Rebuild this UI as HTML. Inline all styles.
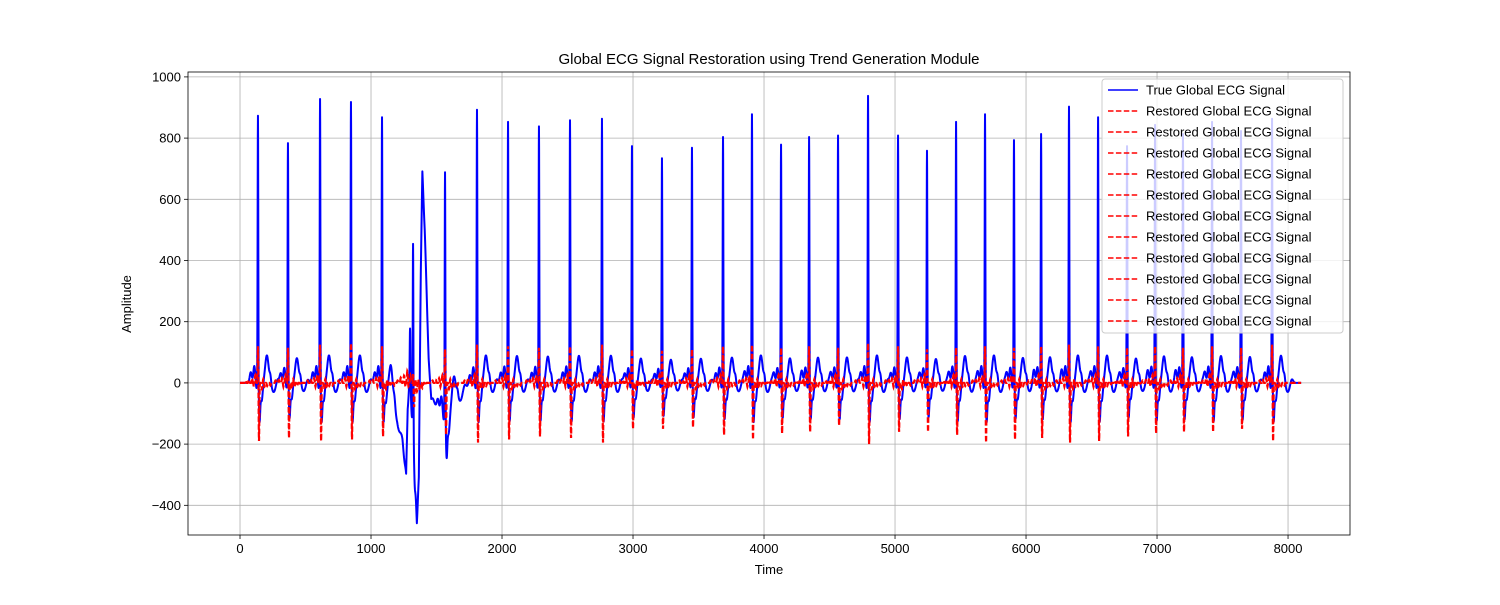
<!DOCTYPE html>
<html><head><meta charset="utf-8"><style>
body{margin:0;background:#fff;font-family:"Liberation Sans",sans-serif}
svg text{font-family:"Liberation Sans",sans-serif;fill:#000}
</style></head><body>
<svg id="c" width="1500" height="600" xmlns="http://www.w3.org/2000/svg">
<rect width="1500" height="600" fill="#fff"/>
<g id="grid"></g><g id="series"></g><g id="axes"></g>
<text x="769" y="64" font-size="15" text-anchor="middle">Global ECG Signal Restoration using Trend Generation Module</text>
<text x="769" y="574" font-size="13" text-anchor="middle">Time</text>
<text x="131" y="304" font-size="13" text-anchor="middle" transform="rotate(-90 131 304)">Amplitude</text>
<g id="legend"></g>
</svg>
<script>
const xTicks=[0,1000,2000,3000,4000,5000,6000,7000,8000];
const yTicks=[-400,-200,0,200,400,600,800,1000];
const beatTimes=[137,366,611,847,1084,1298,1321,1565,1809,2046,2282,2519,2763,2992,3221,3450,3687,3908,4130,4344,4565,4794,5023,5244,5466,5687,5908,6115,6328,6550,6771,6985,7198,7420,7641,7878];
const beatAmps=[880,790,935,925,875,160,610,810,900,860,845,865,870,780,740,775,810,885,785,810,815,945,815,765,860,885,800,820,910,875,780,850,820,860,830,870];
const wanderT=[0,1100,1150,1200,1240,1268,1280,1300,1330,1350,1365,1380,1392,1410,1425,1440,1460,1500,1550,1580,1620,1700,1800,8100];
const wanderV=[0,0,-30,-100,-200,-330,-100,0,-200,-425,-330,300,625,480,300,100,-50,-80,-100,-130,-70,-20,0,0];
const redUp=[120,115,125,130,120,0,30,110,125,120,115,120,125,110,105,110,120,125,115,120,115,130,120,110,115,120,115,120,125,120,115,120,115,120,115,125];
const redDown=[-190,-180,-190,-185,-175,0,-60,-170,-195,-185,-175,-180,-195,-150,-150,-145,-170,-185,-165,-160,-140,-200,-160,-160,-170,-195,-185,-180,-195,-190,-175,-165,-160,-160,-150,-190];
const X0=188,X1=1350,Y0=72,Y1=535;
const xmin=-397,xmax=8473,ymin=-497,ymax=1016;
const sx=v=>X0+(v-xmin)/(xmax-xmin)*(X1-X0);
const sy=v=>Y1-(v-ymin)/(ymax-ymin)*(Y1-Y0);
const NS='http://www.w3.org/2000/svg';
function mk(tag,at,parent){const e=document.createElementNS(NS,tag);for(const k in at)e.setAttribute(k,at[k]);parent.appendChild(e);return e;}
const grid=document.getElementById('grid'),axes=document.getElementById('axes'),ser=document.getElementById('series'),leg=document.getElementById('legend');
xTicks.forEach(t=>{const x=sx(t);
 const g=mk('line',{x1:x,x2:x,y1:Y0,y2:Y1,stroke:'#b0b0b0','stroke-width':0.8},grid);
 
 
 mk('line',{x1:x,x2:x,y1:Y1,y2:Y1+4,stroke:'#000','stroke-width':0.8},axes);
 const tx=mk('text',{x:x,y:Y1+18,'font-size':13,'text-anchor':'middle'},axes);tx.textContent=t;
 
 });
yTicks.forEach(t=>{const y=sy(t);
 const g=mk('line',{x1:X0,x2:X1,y1:y,y2:y,stroke:'#b0b0b0','stroke-width':0.8},grid);
 
 
 mk('line',{x1:X0-4,x2:X0,y1:y,y2:y,stroke:'#000','stroke-width':0.8},axes);
 const tx=mk('text',{x:X0-7,y:y+4.5,'font-size':13,'text-anchor':'end'},axes);tx.textContent=(t<0?'\u2212'+(-t):t);
 
 });
const frame=mk('rect',{x:X0,y:Y0,width:X1-X0,height:Y1-Y0,fill:'none',stroke:'#000','stroke-width':0.8},axes);


function wander(t){for(let i=0;i<wanderT.length-1;i++){if(t>=wanderT[i]&&t<=wanderT[i+1]){const f=(t-wanderT[i])/(wanderT[i+1]-wanderT[i]);return wanderV[i]+f*(wanderV[i+1]-wanderV[i]);}}return 0;}
const G=(t,c,w)=>Math.exp(-0.5*((t-c)/w)**2);
function blue(t){let v=wander(t);
 beatTimes.forEach((b,i)=>{const d=t-b;if(Math.abs(d)>200)return;const a=beatAmps[i];const s=Math.min(1,a/880);
  v+=a*G(d,0,2.5);
  v+=-120*s*G(d,12,5)-60*s*G(d,28,8)-30*s*G(d,120,15);
  v+=90*s*G(d,68,13)+25*s*G(d,95,6);
  v+=55*s*G(d,-28,7)+35*s*G(d,-55,8)-20*s*G(d,-12,4)+15*s*G(d,150,10);});
 return v;}
function red(t){let v=0;
 beatTimes.forEach((b,i)=>{const d=t-b;if(Math.abs(d)>120)return;
  v+=redUp[i]*G(d,0,2)+redDown[i]*G(d,8,2.2);
  v+=25*G(d,-20,3)-20*G(d,30,3)+15*G(d,-45,3)-12*G(d,50,3);
  v+=10*G(d,-70,3)-10*G(d,70,3)+8*G(d,-95,3)-8*G(d,95,3)+12*G(d,40,2)-12*G(d,-35,2);});
 return v;}
let pb=[],pr=[];
for(let t=0;t<=8100;t+=1){pb.push(sx(t).toFixed(2)+','+sy(blue(t)).toFixed(1));pr.push(sx(t).toFixed(2)+','+sy(red(t)).toFixed(1));}
const lb=mk('polyline',{points:pb.join(' '),fill:'none',stroke:'#0000ff','stroke-width':2,'stroke-linejoin':'round'},ser);


const lr=mk('polyline',{points:pr.join(' '),fill:'none',stroke:'#ff0000','stroke-width':2.2,'stroke-dasharray':'5.5,2.4'},ser);


const lbox=mk('rect',{x:1102,y:79,width:241,height:254,fill:'#fff','fill-opacity':0.8,stroke:'#cccccc',rx:3},leg);


for(let i=0;i<12;i++){const y=90+i*21;const blueE=i===0;
 const ln=mk('line',{x1:1108,x2:1138,y1:y,y2:y,stroke:blueE?'#0000ff':'#ff0000','stroke-width':1.6,'stroke-dasharray':blueE?'none':'5.5,2.4'},leg);
 
 
 const tx=mk('text',{x:1146,y:y+4.5,'font-size':13},leg);tx.textContent=blueE?'True Global ECG Signal':'Restored Global ECG Signal';
 
 }
</script>
</body></html>
